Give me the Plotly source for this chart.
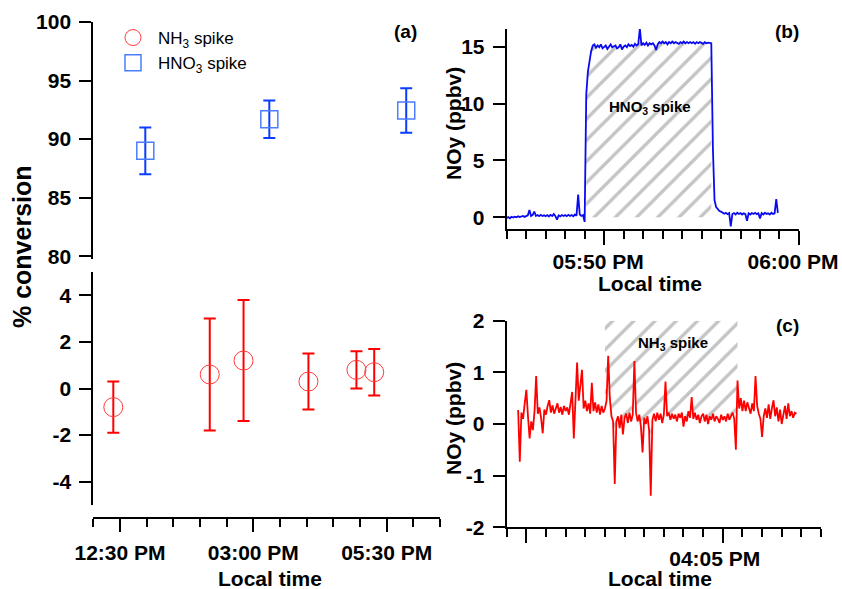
import plotly.graph_objects as go
import pandas as pd

DAY = "2019-06-01 "

# ---------------- Panel (a): % conversion ----------------
nh3_times = ["12:22:30", "14:11:00", "14:49:00", "16:02:00", "16:56:00", "17:16:00"]
nh3_conv = [-0.8, 0.6, 1.2, 0.3, 0.8, 0.7]
nh3_err = [1.1, 2.4, 2.6, 1.2, 0.8, 1.0]

hno3_times = ["12:58:30", "15:18:00", "17:52:00"]
hno3_conv = [89.0, 91.7, 92.45]
hno3_err = [2.0, 1.6, 1.9]

a_xticks = ["12:30", "15:00", "17:30"]
a_top_ticks = [80, 85, 90, 95, 100]
a_bot_ticks = [-4, -2, 0, 2, 4]

# ---------------- Panel (b): HNO3 spike, NOy (ppbv), 5 s data from 17:45:00 ----------------
b_start = "17:45:00"
b_noy = [
    -0.05, 0.02, -0.08, 0.05, -0.02, 0.06, 0.0, 0.1, 0.02, 0.08, 0.12, 0.04,
    0.1, 0.18, 0.65, 0.12, 0.22, 0.5, 0.12, 0.2, 0.1, 0.22, 0.12, 0.18,
    0.1, 0.2, 0.08, 0.22, 0.12, 0.3, 0.1, -0.2, 0.18, 0.08, 0.2, 0.12,
    0.2, 0.1, 0.22, 0.12, 0.2, 0.1, 0.25, 0.15, 2.0, 0.25, 0.12, 0.2,
    -0.4, 10.8, 12.8, 13.9, 14.6, 15.1,
    15.2, 14.9, 15.1, 14.95, 15.2, 14.85, 15.0, 15.1, 14.8, 15.0, 15.2, 14.95,
    15.0, 15.1, 14.85, 14.95, 15.2, 14.75, 15.0, 15.1, 14.95, 15.2, 15.05, 15.15,
    15.0, 15.25, 15.1, 15.2, 16.6, 15.1, 15.3, 15.15, 15.35, 15.1, 15.3, 15.2,
    15.3, 15.1, 14.7, 15.2, 15.4, 15.3, 15.45, 15.3, 15.4, 15.2, 15.4, 15.3,
    15.45, 15.3, 15.4, 15.3, 15.25, 15.4, 15.3, 15.45, 15.3, 15.4, 15.3, 15.4,
    15.3, 15.4, 15.25, 15.4, 15.3, 15.4, 15.3, 15.25, 15.4, 15.3, 15.35, 15.3,
    15.3, 6.0, 1.5, 0.9, 0.7, 0.55, 0.5, 0.4, 0.32, 0.4, 0.28, 0.38,
    -0.8, 0.3, 0.38, 0.25, 0.4, 0.3, 0.38, 0.25, 0.35, 0.28, -0.3, 0.35,
    0.25, 0.38, 0.3, 0.4, 0.28, 0.35, -0.1, 0.38, 0.25, 0.4, 0.3, 0.35,
    0.25, 0.4, 0.3, 0.35, 1.6, 0.4,
]
hno3_window = ("17:49:05", "17:55:30")
b_yticks = [0, 5, 10, 15]

# ---------------- Panel (c): NH3 spike, NOy (ppbv), 5 s data from 15:54:35 ----------------
c_start = "15:54:35"
c_noy = [
    0.27, -0.73, 0.22, 0.1, 0.4, 0.66,
    0.15, -0.28, 0.05, -0.12, 0.25, 0.93,
    0.2, 0.32, 0.12, -0.18, 0.28, 0.18,
    0.35, 0.46, 0.22, 0.36, 0.2, 0.33,
    0.4, 0.22, 0.33, 0.18, 0.35, 0.25,
    0.32, 0.18, 0.4, 0.62, -0.28, 0.4,
    1.19, 0.45, 0.7, 1.05, 0.3, 0.45,
    0.25, 0.4, 0.2, 0.8, 0.25, 0.42,
    0.22, 0.38, 0.18, 0.35, 0.22, 0.3,
    0.45, 1.32, 0.5, 0.15, 0.05, -1.16,
    0.05, 0.15, -0.08, 0.18, -0.2, 0.12,
    0.2, 0.02, 0.22, 0.05, 0.18, 1.22,
    0.22, 0.05, 0.18, -0.05, -0.55, 0.12,
    0.0, 0.15, -0.12, -1.39, 0.08, 0.2,
    0.05, 0.22, 0.08, 0.2, 0.02, 0.18,
    0.82, 0.15, 0.22, 0.08, 0.2, 0.1,
    0.18, 0.05, 0.2, 0.12, 0.22, -0.05,
    0.15, 0.05, 0.25, 0.12, 0.52, 0.1,
    0.22, 0.08, 0.18, 0.02, 0.15, 0.2,
    0.05, 0.18, 0.0, 0.15, 0.08, 0.2,
    0.05, 0.15, 0.1, 0.02, 0.18, 0.08,
    0.15, 0.05, 0.2, 0.08, 0.15, 0.22,
    0.1, -0.5, 0.84, 0.3, 0.5, 0.25,
    0.45, 0.25, 0.42, 0.3, 0.2, 0.4,
    0.25, 0.93, 0.35, 0.2, 0.1, -0.25,
    0.15, 0.3, 0.12, 0.38, 0.1, 0.3,
    0.46, 0.15, 0.32, 0.05, 0.28, 0.0,
    0.2, 0.35, 0.1, 0.4, 0.15, 0.25,
    0.12, 0.22, 0.2,
]
nh3_window = ("15:59:00", "16:05:45")
c_hatch_top = 2.0
c_yticks = [-2, -1, 0, 1, 2]

# ---------------- helpers ----------------
W, H = 842, 589
FONT = "Liberation Sans, Arial, sans-serif"


def fx(px):
    return px / W


def fy(py):
    return 1 - py / H


def d(t):
    return pd.Timestamp(DAY + t)


b_t = pd.date_range(d(b_start), periods=len(b_noy), freq="5s")
c_t = pd.date_range(d(c_start), periods=len(c_noy), freq="5s")
b_ser = pd.Series(b_noy, index=b_t)
c_ser = pd.Series(c_noy, index=c_t)
b_win = b_ser[d(hno3_window[0]):d(hno3_window[1])]
c_win = c_ser[d(nh3_window[0]):d(nh3_window[1])]

hatch = dict(shape="/", fgcolor="#c4c4c4", bgcolor="rgba(255,255,255,0)", size=15, solidity=0.22)

fig = go.Figure()

# hatch (b): between 0 and the signal
fig.add_trace(go.Scatter(x=b_win.index, y=b_win.values, xaxis="x2", yaxis="y3", mode="none",
                         fill="tozeroy", fillcolor="rgba(255,255,255,0)", fillpattern=hatch,
                         showlegend=False, hoverinfo="skip"))
# hatch (c): between the signal and the top of the panel
c_poly_x = list(c_win.index) + list(c_win.index[::-1])
c_poly_y = list(c_win.values) + [c_hatch_top] * len(c_win)
fig.add_trace(go.Scatter(x=c_poly_x, y=c_poly_y, xaxis="x3", yaxis="y4", mode="none",
                         fill="toself", fillcolor="rgba(255,255,255,0)", fillpattern=hatch,
                         showlegend=False, hoverinfo="skip"))

# lines
fig.add_trace(go.Scatter(x=b_t, y=b_noy, xaxis="x2", yaxis="y3", mode="lines",
                         line=dict(color="#0a0af0", width=1.8), showlegend=False))
fig.add_trace(go.Scatter(x=c_t, y=c_noy, xaxis="x3", yaxis="y4", mode="lines",
                         line=dict(color="#ff0000", width=1.8), showlegend=False))

# panel (a)
fig.add_trace(go.Scatter(x=[d(t) for t in nh3_times], y=nh3_conv, xaxis="x", yaxis="y", mode="markers",
                         name="NH<sub>3</sub> spike",
                         marker=dict(symbol="circle-open", size=19, color="#ff3b3b", line=dict(width=1)),
                         error_y=dict(type="data", array=nh3_err, color="#ff0000", thickness=2, width=6)))
fig.add_trace(go.Scatter(x=[d(t) for t in hno3_times], y=hno3_conv, xaxis="x", yaxis="y2", mode="markers",
                         name="HNO<sub>3</sub> spike",
                         marker=dict(symbol="square-open", size=17, color="#4a7dff", line=dict(width=1.5)),
                         error_y=dict(type="data", array=hno3_err, color="#0a3cff", thickness=2, width=6)))

tickfont = dict(family=FONT, size=21, color="black", weight="bold")
common = dict(showline=True, linecolor="black", linewidth=2, ticks="outside", tickwidth=2,
              tickcolor="black", showgrid=False, zeroline=False, tickfont=tickfont, automargin=False)

fig.update_layout(
    template="none",
    width=W, height=H, margin=dict(l=0, r=0, t=0, b=0, pad=0), autosize=False,
    paper_bgcolor="white", plot_bgcolor="white",
    font=dict(family=FONT, color="black"),
    xaxis=dict(domain=[fx(93.3), fx(440)], anchor="free", position=fy(518), type="date",
               range=[d("12:00"), d("18:30")], tickvals=[d(t) for t in a_xticks], tickformat="%I:%M %p",
               ticklen=13, ticklabelstandoff=3,
               minor=dict(dtick=1.8e6, tick0=d("12:00"), ticklen=8, tickwidth=2, tickcolor="black",
                          ticks="outside"), **common),
    yaxis=dict(domain=[fy(505), fy(272)], anchor="x", range=[-5, 5], tickvals=a_bot_ticks,
               ticktext=[str(v) for v in a_bot_ticks], ticklen=12, ticklabelstandoff=4, **common),
    yaxis2=dict(domain=[fy(258.6), fy(22)], anchor="x", range=[79.8, 100], tickvals=a_top_ticks,
                ticktext=[str(v) for v in a_top_ticks], ticklen=12, ticklabelstandoff=4, **common),
    xaxis2=dict(domain=[fx(506.7), fx(799.3)], anchor="y3", type="date",
                range=[d("17:45"), d("18:00:01")], tickvals=[d("17:50"), d("18:00")], tickformat="%I:%M %p",
                ticklen=14, ticklabelstandoff=-2, ticklabelshift=-6, ticklabeloverflow="allow",
                minor=dict(dtick=6e4, tick0=d("17:45"), ticklen=8, tickwidth=2, tickcolor="black",
                           ticks="outside"), **common),
    yaxis3=dict(domain=[fy(229.3), fy(29)], anchor="x2", range=[-1.05, 16.55], tickvals=b_yticks,
                ticktext=[str(v) for v in b_yticks], ticklen=12, ticklabelstandoff=4, **common),
    xaxis3=dict(domain=[fx(506.7), fx(821)], anchor="y4", type="date",
                range=[d("15:54"), d("16:10")], tickvals=[d("15:55"), d("16:05")],
                ticktext=["", "04:05 PM"], ticklen=14, ticklabelstandoff=-3, ticklabelshift=-8,
                minor=dict(dtick=6e4, tick0=d("15:54"), ticklen=8, tickwidth=2, tickcolor="black",
                           ticks="outside"), **common),
    yaxis4=dict(domain=[fy(527.3), fy(320.7)], anchor="x3", range=[-2, 2], tickvals=c_yticks,
                ticktext=[str(v) for v in c_yticks], ticklen=12, ticklabelstandoff=4, **common),
    legend=dict(x=fx(108), y=fy(20), xanchor="left", yanchor="top", bgcolor="rgba(0,0,0,0)",
                traceorder="normal", itemwidth=40,
                font=dict(family=FONT, size=17, color="black"), tracegroupgap=0),
    showlegend=True,
)


def ann(text, x, y, size, bold=True, angle=0):
    fig.add_annotation(text=text, x=fx(x), y=fy(y), xref="paper", yref="paper", showarrow=False,
                       xanchor="center", yanchor="middle", textangle=angle,
                       font=dict(family=FONT, size=size, color="black", weight="bold" if bold else "normal"))


ann("(a)", 405, 32, 19)
ann("(b)", 787, 32, 19)
ann("(c)", 787, 325, 19)
ann("HNO<sub>3</sub> spike", 650, 107, 15)
ann("NH<sub>3</sub> spike", 673, 343, 15)
ann("% conversion", 22, 247, 25, angle=-90)
ann("NOy (ppbv)", 453, 124, 21, angle=-90)
ann("NOy (ppbv)", 453, 419, 21, angle=-90)
ann("Local time", 270, 578, 21)
ann("Local time", 650, 283, 21)
ann("Local time", 660, 578, 21)

fig.write_html("out.html", config={"displayModeBar": False},
               post_script="document.body.style.margin='0px';")
